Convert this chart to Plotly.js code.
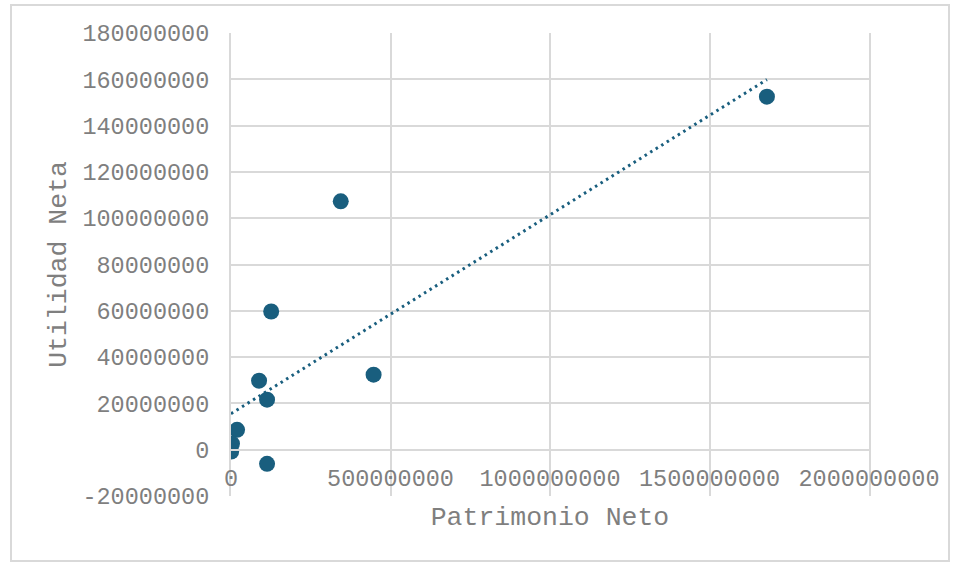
<!DOCTYPE html>
<html>
<head>
<meta charset="utf-8">
<script src="https://cdn.plot.ly/plotly-3.0.1.min.js"></script>
<style>
  html, body { margin: 0; padding: 0; background: #fff; }
  #wrap { position: relative; width: 958px; height: 564px; }
  #chart { width: 958px; height: 564px; }
  #frame { position: absolute; left: 10px; top: 4px; width: 936px; height: 554px;
           border: 2px solid #d9d9d9; pointer-events: none; }
</style>
</head>
<body>
<div id="wrap">
  <div id="chart"></div>
  <div id="frame"></div>
</div>
<script>
// Data
const patrimonioNeto = [1680000000, 344000000, 126000000, 447000000, 88000000, 113000000, 19000000, 3000000, 500000, 113000000];
const utilidadNeta   = [152500000, 107300000, 59700000, 32400000, 29800000, 21600000, 8600000, 2600000, -800000, -6100000];

const xTickVals = [0, 500000000, 1000000000, 1500000000, 2000000000];
const yTickVals = [-20000000, 0, 20000000, 40000000, 60000000, 80000000, 100000000, 120000000, 140000000, 160000000, 180000000];
const xTickText = xTickVals.map(v => String(v));
const yTickText = yTickVals.map(v => String(v));

const xTitle = 'Patrimonio Neto';
const yTitle = 'Utilidad Neta';

// Linear trendline (least squares) computed from the data
const n = patrimonioNeto.length;
const mx = patrimonioNeto.reduce((a, b) => a + b, 0) / n;
const my = utilidadNeta.reduce((a, b) => a + b, 0) / n;
let sxy = 0, sxx = 0;
for (let i = 0; i < n; i++) {
  sxy += (patrimonioNeto[i] - mx) * (utilidadNeta[i] - my);
  sxx += (patrimonioNeto[i] - mx) ** 2;
}
const slope = sxy / sxx;
const intercept = my - slope * mx;
const xMin = 0;
const xMax = Math.max(...patrimonioNeto);
const trendX = [xMin, xMax];
const trendY = trendX.map(x => intercept + slope * x);

const color = '#195e7e';
const fontFam = '"Liberation Mono", "Courier New", monospace';
const textColor = '#7f7f7f';
const gridColor = '#d9d9d9';

const data = [
  {
    x: trendX, y: trendY, type: 'scatter', mode: 'lines',
    line: { color: color, width: 3, dash: '2.5px,4px' },
    hoverinfo: 'skip', showlegend: false
  },
  {
    x: patrimonioNeto, y: utilidadNeta, type: 'scatter', mode: 'markers',
    marker: { color: color, size: 16 },
    showlegend: false
  }
];

const layout = {
  width: 958, height: 564,
  margin: { l: 231, r: 89, t: 33, b: 68, pad: 0 },
  paper_bgcolor: '#ffffff', plot_bgcolor: '#ffffff',
  font: { family: fontFam, color: textColor, size: 23.5 },
  showlegend: false,
  xaxis: {
    range: [0, 2000000000],
    tickvals: xTickVals, ticktext: xTickText,
    showgrid: true, gridcolor: gridColor, gridwidth: 2,
    zeroline: false,
    showline: true, linecolor: gridColor, linewidth: 2, mirror: true,
    anchor: 'free', position: 0.1,
    ticks: '', ticklabelstandoff: 7,
    tickfont: { family: fontFam, color: textColor, size: 23.5 },
    title: { text: xTitle, font: { family: fontFam, color: textColor, size: 26.5 }, standoff: 14 },
    automargin: false, fixedrange: true
  },
  yaxis: {
    range: [-20000000, 180000000],
    tickvals: yTickVals, ticktext: yTickText,
    showgrid: true, gridcolor: gridColor, gridwidth: 2,
    zeroline: false,
    showline: true, linecolor: gridColor, linewidth: 2, mirror: true,
    ticks: '', ticklabelstandoff: 15,
    tickfont: { family: fontFam, color: textColor, size: 23.5 },
    title: { text: yTitle, font: { family: fontFam, color: textColor, size: 26.5 }, standoff: 8 },
    automargin: false, fixedrange: true
  }
};

Plotly.newPlot('chart', data, layout, { displayModeBar: false, staticPlot: true });
</script>
</body>
</html>
